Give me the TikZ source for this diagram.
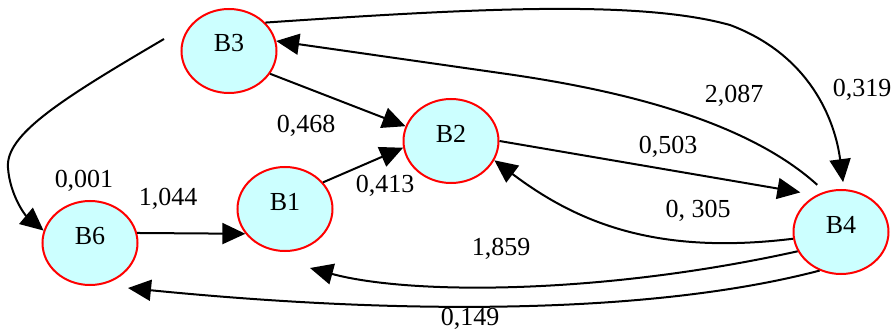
\documentclass[tikz,border=0pt]{standalone}
\usepackage{fontspec}
\setmainfont{Liberation Serif}
\usetikzlibrary{shapes.geometric,arrows.meta}
\definecolor{blockfill}{HTML}{CCFFFF}
\begin{document}
\begin{tikzpicture}[
    x=0.5pt, y=-0.5pt,
    every node/.style={font=\fontsize{13pt}{15pt}\selectfont},
    block/.style={ellipse, draw=red, fill=blockfill, line width=1pt,
        minimum width=47.5pt, minimum height=42pt, inner sep=0pt,
        text height=8.6pt, text depth=7.6pt},
    weight/.style={anchor=base, inner sep=0pt},
    link/.style={line width=1pt, -{Triangle[length=11.5pt,width=10.5pt]}}
]
\useasboundingbox (0,0) rectangle (896,332);

\node[block] (B3) at (229,51) {B3};
\node[block] (B2) at (451,141) {B2};
\node[block] (B1) at (285,209) {B1};
\node[block] (B6) at (90,243) {B6};
\node[block] (B4) at (841,232) {B4};

\coordinate (c001) at (164,39);
\coordinate (c1859) at (310,268);
\coordinate (c149) at (128,288);

\draw[link] (B3.-29) -- (B2.162);
\draw[link] (B1.35) -- (B2.-172);
\draw[link] (B6.12) -- (B1.-148);
\draw[link] (c001) .. controls (60,100) and (5,135) .. (8,168)
    .. controls (10,195) and (25,215) .. (B6.165);
\draw[link, shorten >=3.5pt] (B3.38) .. controls (480,8) and (640,0) .. (730,25)
    .. controls (810,55) and (835,120) .. (B4.86);
\draw[link, shorten <=5pt] (B4.112) .. controls (740,115) and (600,87) .. (500,73)
    -- (B3.12);
\draw[link, shorten >=8pt] (B2.0) -- (B4.124);
\draw[link] (B4.-172) .. controls (660,255) and (580,225) .. (B2.-24);
\draw[link] (B4.-156) .. controls (600,295) and (410,295) .. (c1859);
\draw[link] (B4.-119) .. controls (650,315) and (400,315) .. (c149);

\node[weight] (l468) at (306,132) {0,468};
\node[weight] (l413) at (385,192) {0,413};
\node[weight] (l1044) at (168,205) {1,044};
\node[weight] (l001) at (84,187) {0,001};
\node[weight] (l319) at (862,97) {0,319};
\node[weight] (l2087) at (734,102) {2,087};
\node[weight] (l503) at (668,153) {0,503};
\node[weight] (l305) at (698,217) {0, 305};
\node[weight] (l1859) at (501,255) {1,859};
\node[weight] (l149) at (470,325) {0,149};
\end{tikzpicture}
\end{document}
